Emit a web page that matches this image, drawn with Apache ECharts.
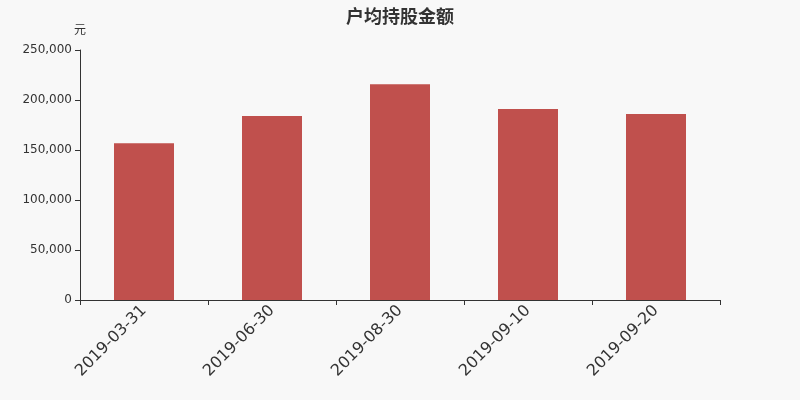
<!DOCTYPE html>
<html>
<head>
<meta charset="utf-8">
<script src="https://cdn.jsdelivr.net/npm/echarts@6/dist/echarts.min.js"></script>
<style>
html, body { margin: 0; padding: 0; background: #f8f8f8; }
#chart { width: 800px; height: 400px; }
</style>
</head>
<body>
<div id="chart"></div>
<script>
var dates = ['2019-03-31', '2019-06-30', '2019-08-30', '2019-09-10', '2019-09-20'];
var amounts = [156700, 184000, 215700, 191000, 186000];

var chart = echarts.init(document.getElementById('chart'));
chart.setOption({
	backgroundColor: '#f8f8f8',
	animation: false,
	title: {
		text: '户均持股金额',
		left: 'center',
		top: 2,
		textStyle: { fontSize: 18, fontWeight: 'bold', color: '#333', fontFamily: 'Noto Sans CJK SC' }
	},
	grid: { left: 80, right: 80, top: 50, bottom: 100 },
	xAxis: {
		type: 'category',
		data: dates,
		axisLine: { lineStyle: { color: '#333' } },
		axisTick: { show: true, alignWithLabel: false },
		axisLabel: { rotate: 45, fontSize: 16, color: '#333', fontFamily: 'DejaVu Sans', interval: 0 }
	},
	yAxis: {
		type: 'value',
		name: '元',
		min: 0,
		max: 250000,
		interval: 50000,
		nameGap: 15,
		nameTextStyle: { color: '#333', fontSize: 12, fontFamily: 'Noto Sans CJK SC', align: 'center' },
		axisLine: { show: true, lineStyle: { color: '#333' } },
		axisTick: { show: true },
		splitLine: { show: false },
		axisLabel: {
			color: '#333',
			fontSize: 12,
			fontFamily: 'DejaVu Sans',
			formatter: function(v) { return v.toLocaleString('en-US'); }
		}
	},
	series: [{
		type: 'bar',
		data: amounts,
		barWidth: 60,
		itemStyle: { color: '#c0504d' }
	}]
});
</script>
</body>
</html>
